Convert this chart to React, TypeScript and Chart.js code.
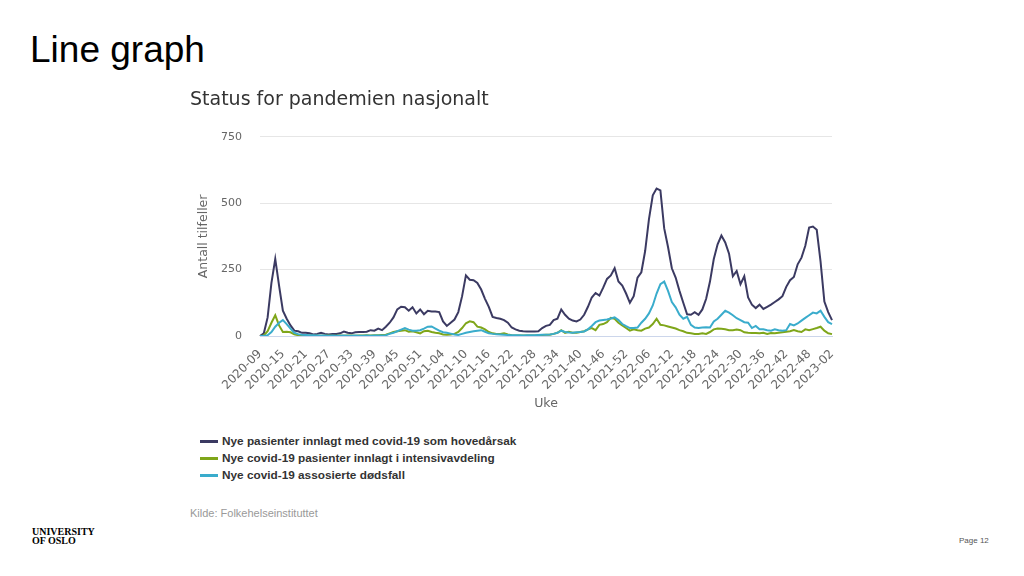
import React, { useEffect, useRef } from "react";
import { Chart, registerables } from "chart.js";

Chart.register(...registerables);

// ISO week categories 2020-09 .. 2023-02
const weekSpans: [number, number, number][] = [
  [2020, 9, 53],
  [2021, 1, 52],
  [2022, 1, 52],
  [2023, 1, 2],
];
const weekLabels: string[] = [];
weekSpans.forEach(([y, a, b]) => {
  for (let w = a; w <= b; w++) weekLabels.push(`${y}-${w < 10 ? "0" + w : w}`);
});

const hospitalized = [
  0, 10, 70, 200, 290, 190, 95, 65, 40, 20,
  18, 12, 12, 10, 6, 8, 12, 8, 6, 8,
  8, 10, 17, 12, 10, 14, 15, 15, 16, 22,
  20, 28, 22, 35, 50, 70, 100, 110, 108, 95,
  108, 85, 100, 82, 95, 92, 92, 90, 55, 38,
  50, 62, 90, 150, 228, 212, 210, 200, 175, 140,
  110, 72, 68, 65, 60, 50, 32, 25, 20, 18,
  17, 17, 17, 18, 30, 38, 42, 60, 65, 100,
  80, 65, 58, 55, 62, 80, 110, 145, 162, 152,
  182, 215, 228, 255, 205, 190, 160, 125, 150, 220,
  240, 320, 440, 530, 555, 548, 405, 335, 255, 220,
  170, 125, 82, 80, 90, 80, 100, 140, 205, 290,
  345, 378, 352, 310, 225, 245, 195, 225, 145, 118,
  105, 118, 102, 110, 118, 128, 138, 150, 185, 210,
  222, 270, 295, 340, 408, 412, 400, 280, 130, 90,
  60,
];

const intensive = [
  0, 2, 18, 50, 78, 40, 15, 16, 14, 6,
  3, 2, 2, 2, 1, 1, 1, 1, 2, 1,
  1, 2, 1, 2, 2, 1, 2, 2, 3, 2,
  3, 3, 4, 5, 10, 15, 18, 20, 22, 16,
  18, 14, 10, 18, 20, 15, 12, 10, 6, 5,
  6, 8, 15, 30, 48, 55, 52, 35, 32, 25,
  15, 10, 8, 8, 10, 6, 3, 2, 2, 2,
  2, 2, 2, 3, 4, 5, 5, 8, 12, 22,
  12, 16, 12, 12, 15, 18, 25, 30, 22, 42,
  45, 52, 68, 65, 50, 40, 30, 20, 25, 22,
  20, 28, 32, 45, 65, 42, 40, 36, 32, 28,
  22, 18, 12, 10, 8, 8, 10, 8, 15, 25,
  28, 27, 25, 22, 22, 24, 22, 14, 12, 11,
  11, 10, 12, 8, 11, 10, 12, 14, 16, 18,
  22, 18, 15, 25, 22, 26, 30, 35, 20, 10,
  7,
];

const deaths = [
  0, 0, 3, 15, 35, 50, 60, 45, 28, 12,
  7, 5, 4, 3, 3, 2, 2, 2, 1, 2,
  1, 1, 2, 1, 1, 2, 1, 1, 2, 1,
  2, 2, 2, 3, 8, 12, 18, 24, 30, 24,
  20, 20, 22, 28, 35, 36, 28, 20, 14, 12,
  9, 6, 4, 8, 12, 15, 18, 20, 22, 16,
  10, 8, 7, 6, 5, 4, 3, 3, 3, 2,
  3, 3, 3, 4, 5, 5, 6, 8, 12, 20,
  15, 13, 12, 14, 15, 17, 25, 38, 52, 58,
  60, 62, 66, 70, 60, 45, 37, 30, 30, 32,
  50, 65, 85, 115, 160, 195, 205, 170, 128, 108,
  80, 65, 72, 42, 32, 30, 32, 33, 32, 55,
  65, 80, 95, 88, 78, 67, 60, 52, 50, 30,
  38, 25, 25, 22, 20, 25, 22, 20, 22, 45,
  40, 47, 58, 68, 78, 88, 85, 95, 72, 52,
  45,
];

const seriesNames = [
  "Nye pasienter innlagt med covid-19 som hovedårsak",
  "Nye covid-19 pasienter innlagt i intensivavdeling",
  "Nye covid-19 assosierte dødsfall",
];
const seriesColors = ["#3b3a62", "#7fa61a", "#3aaccc"];
const yTickValues = [0, 250, 500, 750];

const chartTitle = "Status for pandemien nasjonalt";
const yTitle = "Antall tilfeller";
const xTitle = "Uke";
const sourceText = "Kilde: Folkehelseinstituttet";

export default function App() {
  const canvasRef = useRef<HTMLCanvasElement | null>(null);

  useEffect(() => {
    if (!canvasRef.current) return;
    const seriesData = [hospitalized, intensive, deaths];
    const chart = new Chart(canvasRef.current, {
      type: "line",
      data: {
        labels: weekLabels,
        datasets: seriesData.map((d, i) => ({
          label: seriesNames[i],
          data: d,
          borderColor: seriesColors[i],
          backgroundColor: seriesColors[i],
          borderWidth: 2,
          pointRadius: 0,
          tension: 0,
          fill: false,
          order: 3 - i,
        })),
      },
      options: {
        responsive: false,
        animation: false,
        devicePixelRatio: 1,
        layout: { padding: { left: 0, right: 13, top: 0, bottom: 12 } },
        plugins: {
          legend: { display: false },
          tooltip: { enabled: false },
          title: {
            display: true,
            text: chartTitle,
            align: "start",
            color: "#333333",
            font: { family: "DejaVu Sans", size: 19, weight: "normal" },
            padding: { top: 9, bottom: 25 },
          },
        },
        scales: {
          x: {
            type: "category",
            offset: false,
            grid: { display: false, drawTicks: false },
            border: { display: true, color: "#ccd6eb", width: 1 },
            ticks: {
              autoSkip: false,
              maxRotation: 45,
              minRotation: 45,
              padding: 11,
              color: "#666666",
              font: { family: "DejaVu Sans", size: 12 },
              callback: (_v: any, index: number) =>
                index % 6 === 0 ? weekLabels[index] : null,
            },
            title: {
              display: true,
              text: xTitle,
              color: "#666666",
              font: { family: "DejaVu Sans", size: 12.5 },
              padding: { top: 0, bottom: 2 },
            },
            afterFit: (s: any) => {
              s.height = 77;
              s.paddingRight = 0;
              s.paddingLeft = 0;
            },
          },
          y: {
            min: 0,
            max: 750,
            afterBuildTicks: (s: any) => {
              s.ticks = yTickValues.map((v) => ({ value: v }));
            },
            ticks: {
              padding: 18,
              color: "#666666",
              font: { family: "DejaVu Sans", size: 11 },
            },
            grid: {
              drawTicks: false,
              color: (c: any) =>
                c.tick && c.tick.value === 0 ? "#ccd6eb" : "#e6e6e6",
            },
            border: { display: false },
            title: {
              display: true,
              text: yTitle,
              color: "#666666",
              font: { family: "DejaVu Sans", size: 12.5 },
              padding: { top: 6, bottom: 0 },
            },
            afterFit: (s: any) => {
              s.width = 70;
            },
          },
        },
      } as any,
    });
    return () => chart.destroy();
  }, []);

  return (
    <div
      style={{
        position: "fixed",
        left: 0,
        top: 0,
        width: 1024,
        height: 576,
        background: "#ffffff",
        overflow: "hidden",
      }}
    >
      <div
        style={{
          position: "absolute",
          left: 30,
          top: 31,
          fontFamily: "'Liberation Sans', Arial, sans-serif",
          fontSize: 37,
          lineHeight: "37px",
          color: "#000000",
          whiteSpace: "nowrap",
        }}
      >
        Line graph
      </div>

      <div style={{ position: "absolute", left: 190, top: 80, width: 655, height: 345 }}>
        <canvas ref={canvasRef} width={655} height={345} style={{ display: "block" }} />
      </div>

      <div
        style={{
          position: "absolute",
          left: 200,
          top: 433,
          fontFamily: "'Liberation Sans', Arial, sans-serif",
          fontWeight: "bold",
          fontSize: 11.8,
          lineHeight: "17px",
          color: "#333333",
        }}
      >
        {seriesNames.map((n, i) => (
          <div key={n} style={{ display: "flex", alignItems: "center", height: 17, whiteSpace: "nowrap" }}>
            <span
              style={{
                display: "inline-block",
                width: 18,
                height: 3,
                background: seriesColors[i],
                marginRight: 4,
              }}
            />
            <span>{n}</span>
          </div>
        ))}
      </div>

      <div
        style={{
          position: "absolute",
          left: 190,
          top: 506,
          fontFamily: "'Liberation Sans', Arial, sans-serif",
          fontSize: 11,
          lineHeight: "14px",
          color: "#999999",
          whiteSpace: "nowrap",
        }}
      >
        {sourceText}
      </div>

      <div
        style={{
          position: "absolute",
          left: 32,
          top: 527,
          fontFamily: "'Liberation Serif', 'Times New Roman', serif",
          fontWeight: "bold",
          fontSize: 10,
          lineHeight: "9px",
          color: "#000000",
          whiteSpace: "nowrap",
        }}
      >
        <div>UNIVERSITY</div>
        <div>OF OSLO</div>
      </div>

      <div
        style={{
          position: "absolute",
          left: 959,
          top: 536,
          fontFamily: "'Liberation Sans', Arial, sans-serif",
          fontSize: 8,
          lineHeight: "10px",
          color: "#555555",
          whiteSpace: "nowrap",
        }}
      >
        Page 12
      </div>
    </div>
  );
}
